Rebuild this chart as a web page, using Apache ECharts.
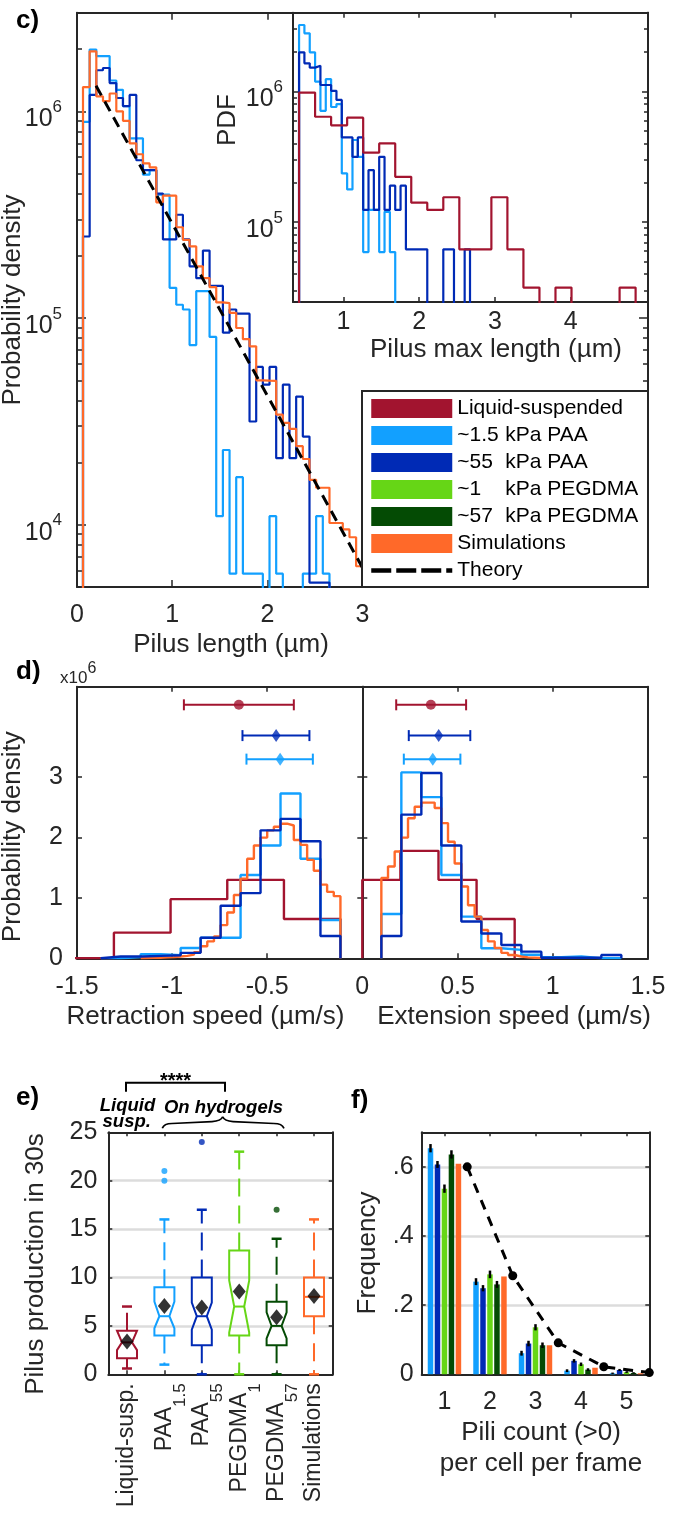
<!DOCTYPE html>
<html>
<head>
<meta charset="utf-8">
<script src="https://cdn.jsdelivr.net/npm/echarts@6.0.0/dist/echarts.min.js"></script>
<style>
html,body{margin:0;padding:0;background:#ffffff;}
#chart{width:680px;height:1513px;}
</style>
</head>
<body>
<div id="chart"></div>
<script>
// ===================== DATA =====================
// c) main panel: pilus length PDFs (first bin edge, bin width, densities per bin)
const cBinStart = 0.063;
const cBinWidth = 0.07;
const cPAA15 = [8.9e5, 1.99e6, 1.85e6, 1.85e6, 1.41e6, 1.27e6, 1.06e6, 7.4e5, 7.4e5, 4.94e5, 5.2e5, 3.95e5, 3.95e5, 1.4e5, 1.16e5, 1.1e5, 7.4e4, 1.35e5, 1.35e5, 8.1e4, 1.1e4, 2.3e4, 5.8e3, 1.7e4, 5.8e3, 5.8e3, 5.8e3, 0, 1.1e4, 5.8e3, 0, 0, 0, 5.8e3, 5.8e3, 1.1e4, 5.8e3];
const cPAA55 = [2.48e5, 1.2e6, 1.58e6, 1.62e6, 1.37e6, 1.16e6, 1.06e6, 1.2e6, 5.8e5, 5.2e5, 5.2e5, 4.0e5, 2.4e5, 2.4e5, 3.16e5, 2.4e5, 1.78e5, 1.56e5, 2.12e5, 1.43e5, 1.43e5, 8.5e4, 1.1e5, 1.05e5, 1.05e5, 3.16e4, 5.8e4, 4.76e4, 5.8e4, 2.1e4, 4.76e4, 2.1e4, 4.17e4, 2.67e4, 5.25e3, 5.25e3, 5.25e3];
const cSim = [1.31e6, 1.95e6, 1.18e6, 1.12e6, 1.22e6, 1.0e6, 9.0e5, 7.0e5, 6.2e5, 5.6e5, 5.36e5, 3.63e5, 3.91e5, 3.91e5, 2.75e5, 2.39e5, 2.22e5, 1.78e5, 1.56e5, 1.41e5, 1.19e5, 1.18e5, 1.06e5, 8.95e4, 7.9e4, 7.3e4, 5.0e4, 4.98e4, 4.97e4, 3.41e4, 3.11e4, 2.91e4, 2.4e4, 2.08e4, 1.65e4, 1.51e4, 1.51e4, 1.02e4, 1.02e4, 9.5e3, 8.7e3, 6.3e3];
const cTheory = [[0.2, 1.33e6], [3.0, 6.2e3]];
const cXLabels = [0, 1, 2, 3];
const cYLabels = [1e4, 1e5, 1e6];

// c) inset: pilus max length PDFs
const insLiquidStart = 0.415, insLiquidWidth = 0.2115;
const insLiquid = [9.8e5, 6.4e5, 5.5e5, 6.3e5, 3.4e5, 4.0e5, 2.22e5, 1.41e5, 1.24e5, 1.55e5, 6.2e4, 6.2e4, 1.55e5, 6.2e4, 3.16e4, 0, 3.16e4, 0, 0, 0, 3.16e4];
const insPAAStart = 0.415, insPAAWidth = 0.0705;
const insPAA15 = [3.22e6, 2.78e6, 1.99e6, 1.19e6, 7.1e5, 1.24e6, 7.6e5, 8.0e5, 2.36e5, 1.78e5, 4.25e5, 3.16e5, 5.9e4, 1.24e5, 1.24e5, 5.9e4, 1.2e5, 5.9e4];
const insPAA55 = [1.99e6, 1.64e6, 1.52e6, 1.57e6, 1.12e6, 1.12e6, 1.01e6, 8.6e5, 4.45e5, 4.45e5, 3.16e5, 4.45e5, 1.24e5, 2.5e5, 1.24e5, 3.16e5, 1.24e5, 1.9e5, 1.24e5, 1.9e5, 6.2e4, 6.2e4, 6.2e4, 6.2e4, 0, 0, 0, 6.2e4, 6.2e4, 0, 0, 6.2e4];
const insXLabels = [1, 2, 3, 4];
const insYLabels = [1e5, 1e6];

// d) retraction / extension speed PDFs (x10^6)
const dRetLiquidStart = -1.604, dRetLiquidWidth = 0.298;
const dRetLiquid = [0, 0.425, 0.98, 1.30, 0.65];
const dRetPAAStart = -1.375, dRetPAAWidth = 0.105;
const dRetPAA15 = [0, 0.02, 0.07, 0.05, 0.17, 0.34, 0.34, 1.38, 1.87, 2.73, 1.65, 0.635];
const dRetPAA55 = [0.03, 0.03, 0.04, 0.05, 0.09, 0.34, 0.87, 1.08, 2.12, 2.31, 1.94, 0.37];
const dRetSimStart = -1.165, dRetSimWidth = 0.035;
const dRetSim = [0.005, 0.01, 0.01, 0.015, 0.02, 0.03, 0.04, 0.06, 0.1, 0.2, 0.28, 0.36, 0.55, 0.76, 1.05, 1.32, 1.65, 1.87, 2.0, 2.12, 2.18, 2.23, 2.2, 1.96, 1.88, 1.63, 1.45, 1.22, 1.1, 1.03];
const dExtLiquidStart = 0, dExtLiquidWidth = 0.2;
const dExtLiquid = [1.30, 1.78, 1.30, 0.65];
const dExtPAAStart = 0.1, dExtPAAWidth = 0.105;
const dExtPAA15 = [0.735, 3.08, 2.67, 1.38, 0.69, 0.166, 0.14, 0.06, 0.02, 0.03, 0, 0];
const dExtPAA55 = [0.37, 2.38, 3.07, 1.87, 0.61, 0.41, 0.22, 0.11, 0.01, 0.01, 0.01, 0.055];
const dExtSimStart = 0.1, dExtSimWidth = 0.035;
const dExtSim = [1.33, 1.52, 1.77, 2.0, 2.32, 2.51, 2.58, 2.58, 2.49, 2.24, 1.93, 1.57, 1.19, 0.88, 0.69, 0.47, 0.28, 0.17, 0.09, 0.055, 0.03, 0.015, 0.01, 0.005];
// mean +/- sd markers: [level, low, mean, high]
const dRetErr = {liq: [4.2, -0.938, -0.649, -0.36], p55: [3.69, -0.63, -0.453, -0.278], p15: [3.30, -0.609, -0.432, -0.26]};
const dExtErr = {liq: [4.2, 0.178, 0.36, 0.545], p55: [3.69, 0.244, 0.401, 0.567], p15: [3.30, 0.218, 0.37, 0.515]};
const dYLabels = [0, 1, 2, 3];

// e) pilus production in 30 s: [whiskerLow, Q1, notchLow, median, notchHigh, Q3, whiskerHigh]
const eCategories = [['Liquid-susp.', ''], ['PAA', '1.5'], ['PAA', '55'], ['PEGDMA', '1'], ['PEGDMA', '57'], ['Simulations', '']];
const eStats = [
  [0.6, 1.65, 2.5, 3.3, 4.5, 4.5, 7],
  [1, 4, 4.75, 6, 7.5, 9, 16],
  [0, 3, 4.6, 6, 7.4, 10, 17],
  [0, 4, 4.3, 7, 9.7, 12.8, 23],
  [0, 3, 3.7, 5, 6.4, 7.5, 14],
  [0, 6, 8, 8, 8, 10, 16]
];
const eMeans = [3.38, 7.06, 6.9, 8.55, 5.9, 8.1];
const eOutliers = [[1, 21], [1, 20], [2, 24], [4, 17]];
const eYLabels = [0, 5, 10, 15, 20, 25];

// f) pili count per cell per frame
const fCategories = ['1', '2', '3', '4', '5'];
const fPAA15 = [0.654, 0.268, 0.061, 0.0105, 0.003];
const fPAA55 = [0.607, 0.249, 0.089, 0.039, 0.0125];
const fPEG1 = [0.537, 0.289, 0.136, 0.029, 0.006];
const fPEG57 = [0.636, 0.26, 0.084, 0.0135, 0.004];
const fSim = [0.609, 0.283, 0.084, 0.019, 0.003];
const fErr15 = [0.012, 0.01, 0.007, 0.004, 0.002];
const fErr55 = [0.01, 0.009, 0.008, 0.005, 0.003];
const fErrPEG1 = [0.012, 0.011, 0.009, 0.005, 0.002];
const fErrPEG57 = [0.012, 0.01, 0.008, 0.004, 0.002];
const fTheoryX = [1.5, 2.5, 3.5, 4.5, 5.5];
const fTheory = [0.6, 0.285, 0.091, 0.022, 0.005];
const fYLabels = [0, 0.2, 0.4, 0.6];

// legend entries
const legendNames = ['Liquid-suspended', 'PAA1.5', 'PAA55', 'PEGDMA1', 'PEGDMA57', 'Simulations', 'Theory'];
const legendTexts = {'Liquid-suspended': ['Liquid-suspended'], 'PAA1.5': ['~1.5', 'kPa PAA'], 'PAA55': ['~55', 'kPa PAA'], 'PEGDMA1': ['~1', 'kPa PEGDMA'], 'PEGDMA57': ['~57', 'kPa PEGDMA'], 'Simulations': ['Simulations'], 'Theory': ['Theory']};

// ===================== STYLE / HELPERS =====================
const FONT = "'Liberation Sans', Arial, Helvetica, sans-serif";
const AX = '#262626';
const COL = {liq: '#a2142f', p15: '#12a0ff', p55: '#002ab5', g1: '#66d616', g57: '#044b04', sim: '#ff6929'};
const eColors = [COL.liq, COL.p15, COL.p55, COL.g1, COL.g57, COL.sim];
const TICK = 25;

function steps(x0, w, vals, floor) {
  const pts = [[x0, floor]];
  for (let i = 0; i < vals.length; i++) pts.push([x0 + i * w, vals[i] > 0 ? vals[i] : floor]);
  pts.push([x0 + vals.length * w, floor]);
  return pts;
}
function minorLog(lo, hi) {
  const out = [];
  for (let e = -2; e < 9; e++) for (let m = 2; m <= 9; m++) {
    const v = m * Math.pow(10, e);
    if (v > lo * 1.0001 && v < hi * 0.9999) out.push(v);
  }
  return out;
}
const pow10 = v => '{b|10}{s|' + Math.round(Math.log10(v)) + '}';
const powRich = {
  b: {fontSize: TICK, fontFamily: FONT, color: AX, lineHeight: 25, verticalAlign: 'top', padding: [8, 0, 0, 0]},
  s: {fontSize: 17, fontFamily: FONT, color: AX, lineHeight: 17, verticalAlign: 'top'}
};

function ax(o) {
  const a = {
    type: o.log ? 'log' : (o.cat ? 'category' : 'value'),
    gridIndex: o.grid, position: o.pos, z: o.z || 0,
    axisLine: {show: o.line !== false, onZero: false, lineStyle: {color: AX, width: 2}},
    axisTick: {show: o.noTicks ? false : true, inside: true, length: o.tickLen || 5, lineStyle: {color: AX, width: 1.5}},
    axisLabel: {show: !!o.labels, color: AX, fontSize: TICK, fontFamily: FONT, margin: o.margin || 8},
    splitLine: {show: false},
    minorTick: {show: false},
    axisPointer: {show: false}
  };
  if (o.log) a.logBase = 10;
  if (o.min !== undefined) a.min = o.min;
  if (o.max !== undefined) a.max = o.max;
  if (o.interval) a.interval = o.interval;
  if (o.ticks) a.axisTick.customValues = o.ticks;
  if (o.labels && o.labels !== true) a.axisLabel.customValues = o.labels;
  if (o.fmt) a.axisLabel.formatter = o.fmt;
  if (o.rich) a.axisLabel.rich = o.rich;
  if (o.rotate) a.axisLabel.rotate = o.rotate;
  if (o.cat) { a.data = o.cat; a.axisTick.alignWithLabel = true; a.axisTick.interval = 0; a.axisLabel.interval = 0; a.axisLabel.hideOverlap = false; a.boundaryGap = true; }
  if (o.split) a.splitLine = {show: true, lineStyle: {color: '#dcdcdc', width: 2.5}};
  if (o.hidden) a.show = false;
  return a;
}
function stepSeries(name, color, data, xi, yi, z, width) {
  return {name, type: 'line', step: 'end', data, xAxisIndex: xi, yAxisIndex: yi, z: z,
    symbol: 'none', showSymbol: false, clip: true, silent: true, color: color,
    itemStyle: {color: color}, lineStyle: {color: color, width: width || 2.2}};
}
function txt(x, y, text, o) {
  o = o || {};
  return {type: 'text', x: x, y: y, rotation: o.rot || 0, z: 20, silent: true,
    style: {text: text, fill: o.color || AX, fontSize: o.size || 26, fontFamily: FONT,
      fontWeight: o.weight || 'normal', fontStyle: o.fstyle || 'normal',
      align: o.align || 'center', textAlign: o.align || 'center',
      verticalAlign: o.va || 'middle', textVerticalAlign: o.va || 'middle', rich: o.rich}};
}
function seg(x1, y1, x2, y2, w) {
  return {type: 'line', z: 20, silent: true, shape: {x1, y1, x2, y2}, style: {stroke: '#000', lineWidth: w || 1.7}};
}
function qcurve(x1, y1, cx, cy, x2, y2) {
  return {type: 'bezierCurve', z: 20, silent: true, shape: {x1, y1, x2, y2, cpx1: cx, cpy1: cy}, style: {stroke: '#000', lineWidth: 1.7, fill: 'none'}};
}

// ---------- panel d error bars ----------
function renderHErr(params, api) {
  const yv = api.value(0), lo = api.value(1), hi = api.value(3);
  const p1 = api.coord([lo, yv]), p2 = api.coord([hi, yv]);
  const color = api.visual('color');
  const st = {stroke: color, lineWidth: 2};
  return {type: 'group', children: [
    {type: 'line', shape: {x1: p1[0], y1: p1[1], x2: p2[0], y2: p2[1]}, style: st},
    {type: 'line', shape: {x1: p1[0], y1: p1[1] - 5.5, x2: p1[0], y2: p1[1] + 5.5}, style: st},
    {type: 'line', shape: {x1: p2[0], y1: p2[1] - 5.5, x2: p2[0], y2: p2[1] + 5.5}, style: st}
  ]};
}
function errData(obj) {
  return [['liq', COL.liq], ['p55', COL.p55], ['p15', COL.p15]].map(([k, c]) => ({value: obj[k], itemStyle: {color: c}}));
}
function markerData(obj) {
  return [['liq', COL.liq, 'circle', 10], ['p55', COL.p55, 'diamond', [9, 13]], ['p15', COL.p15, 'diamond', [9, 13]]]
    .map(([k, c, s, sz]) => ({value: [obj[k][2], obj[k][0]], symbol: s, symbolSize: sz, itemStyle: {color: c}}));
}

// ---------- panel e boxes ----------
function renderBox(params, api) {
  const i = api.value(0);
  const wLo = api.value(1), q1 = api.value(2), nLo = api.value(3), med = api.value(4), nHi = api.value(5), q3 = api.value(6), wHi = api.value(7);
  const cx = api.coord([i, med])[0];
  const Y = v => api.coord([i, v])[1];
  const hw = 10, ind = nHi > nLo ? 5 : 0, cap = 5;
  const color = eColors[i];
  const pts = [[cx - hw, Y(q3)], [cx + hw, Y(q3)], [cx + hw, Y(nHi)], [cx + hw - ind, Y(med)], [cx + hw, Y(nLo)], [cx + hw, Y(q1)],
    [cx - hw, Y(q1)], [cx - hw, Y(nLo)], [cx - hw + ind, Y(med)], [cx - hw, Y(nHi)]];
  return {type: 'group', children: [
    {type: 'line', shape: {x1: cx, y1: Y(q3), x2: cx, y2: Y(wHi)}, style: {stroke: color, lineWidth: 2, lineDash: [18, 9]}},
    {type: 'line', shape: {x1: cx, y1: Y(q1), x2: cx, y2: Y(wLo)}, style: {stroke: color, lineWidth: 2, lineDash: [18, 9]}},
    {type: 'line', shape: {x1: cx - cap, y1: Y(wHi), x2: cx + cap, y2: Y(wHi)}, style: {stroke: color, lineWidth: 2.5}},
    {type: 'line', shape: {x1: cx - cap, y1: Y(wLo), x2: cx + cap, y2: Y(wLo)}, style: {stroke: color, lineWidth: 2.5}},
    {type: 'polygon', shape: {points: pts}, style: {stroke: color, lineWidth: 2, fill: 'none'}},
    {type: 'line', shape: {x1: cx - hw + ind, y1: Y(med), x2: cx + hw - ind, y2: Y(med)}, style: {stroke: color, lineWidth: 2}}
  ]};
}

// ---------- panel f bars ----------
const BAR_W = 5.5, BAR_GAP = 0.27, BAR_STEP = BAR_W * (1 + BAR_GAP);
function makeBarErr(k) {
  return function (params, api) {
    const c = api.value(0), v = api.value(1), e = api.value(2);
    const top = api.coord([c, v + e]), bot = api.coord([c, v - e]);
    const x = top[0] + (k - 2) * BAR_STEP;
    return {type: 'line', shape: {x1: x, y1: top[1], x2: x, y2: bot[1]}, style: {stroke: '#000', lineWidth: 2.5}};
  };
}
function barSeries(name, color, vals) {
  return {name, type: 'bar', xAxisIndex: 10, yAxisIndex: 14, data: vals, barWidth: BAR_W, barGap: (BAR_GAP * 100) + '%',
    color: color, itemStyle: {color: color}, z: 2, silent: true};
}
function errSeries(k, vals, errs) {
  return {type: 'custom', xAxisIndex: 10, yAxisIndex: 14, z: 4, silent: true, renderItem: makeBarErr(k),
    encode: {x: 0, y: 1}, data: vals.map((v, i) => [i, v, errs[i]])};
}

// ===================== OPTION =====================
const cMinor = minorLog(5e3, 3e6);
const insMinor = minorLog(2.45e4, 4e6);

const option = {
  animation: false,
  backgroundColor: '#ffffff',
  textStyle: {fontFamily: FONT},
  grid: [
    {left: 77, top: 12.7, width: 571, height: 574.3, outerBoundsMode: 'none', containLabel: false},
    {left: 293, top: 12.7, width: 355, height: 289.3, outerBoundsMode: 'none', containLabel: false},
    {left: 77, top: 686.7, width: 285.3, height: 271.6, outerBoundsMode: 'none', containLabel: false},
    {left: 362.3, top: 686.7, width: 285.7, height: 271.6, outerBoundsMode: 'none', containLabel: false},
    {left: 108.3, top: 1132.3, width: 224.4, height: 242, outerBoundsMode: 'none', containLabel: false},
    {left: 421.7, top: 1132.3, width: 227.6, height: 242, outerBoundsMode: 'none', containLabel: false}
  ],
  xAxis: [
    ax({grid: 0, pos: 'bottom', min: 0, max: 6, ticks: [1, 2, 3, 4, 5], tickLen: 7, labels: cXLabels, margin: 16}),
    ax({grid: 0, pos: 'top', min: 0, max: 6, ticks: [1, 2, 3, 4, 5], tickLen: 7}),
    ax({grid: 1, pos: 'bottom', min: 0.335, max: 5.02, ticks: insXLabels, tickLen: 5, labels: insXLabels, margin: 8, z: 6}),
    ax({grid: 1, pos: 'top', min: 0.335, max: 5.02, ticks: insXLabels, tickLen: 5, z: 6}),
    ax({grid: 2, pos: 'bottom', min: -1.5, max: 0, ticks: [-1, -0.5], labels: [-1.5, -1, -0.5], margin: 16}),
    ax({grid: 2, pos: 'top', min: -1.5, max: 0, ticks: [-1, -0.5]}),
    ax({grid: 3, pos: 'bottom', min: 0, max: 1.5, ticks: [0.5, 1], labels: [0, 0.5, 1, 1.5], margin: 16}),
    ax({grid: 3, pos: 'top', min: 0, max: 1.5, ticks: [0.5, 1]}),
    ax({grid: 4, pos: 'bottom', cat: eCategories.map(c => c[0] + c[1]), tickLen: 4, labels: true, margin: 9, rotate: 90, z: 1,
      fmt: (v, i) => eCategories[i][1] ? '{b|' + eCategories[i][0] + '}{s|' + eCategories[i][1] + '}' : '{b|' + eCategories[i][0] + '}',
      rich: {
        b: {fontSize: 23, fontFamily: FONT, color: AX, lineHeight: 23, verticalAlign: 'top'},
        s: {fontSize: 17, fontFamily: FONT, color: AX, lineHeight: 17, verticalAlign: 'top', padding: [19, 0, 0, 0]}
      }}),
    ax({grid: 4, pos: 'top', cat: eCategories.map(c => c[0] + c[1]), tickLen: 4, z: 1}),
    ax({grid: 5, pos: 'bottom', cat: fCategories, tickLen: 4, labels: true, margin: 15, z: 1}),
    ax({grid: 5, pos: 'top', cat: fCategories, tickLen: 4, z: 1}),
    ax({grid: 5, pos: 'bottom', min: 0.5, max: 5.5, hidden: true})
  ],
  yAxis: [
    ax({grid: 0, pos: 'left', log: true, min: 5e3, max: 3e6, ticks: cYLabels, tickLen: 9, labels: cYLabels, fmt: pow10, rich: powRich, margin: 15}),
    ax({grid: 0, pos: 'left', log: true, min: 5e3, max: 3e6, ticks: cMinor, tickLen: 5, line: false}),
    ax({grid: 0, pos: 'right', log: true, min: 5e3, max: 3e6, ticks: cYLabels, tickLen: 9}),
    ax({grid: 0, pos: 'right', log: true, min: 5e3, max: 3e6, ticks: cMinor, tickLen: 5, line: false}),
    ax({grid: 1, pos: 'left', log: true, min: 2.45e4, max: 4e6, ticks: insYLabels, tickLen: 6, labels: insYLabels, fmt: pow10, rich: powRich, margin: 10, z: 6}),
    ax({grid: 1, pos: 'left', log: true, min: 2.45e4, max: 4e6, ticks: insMinor, tickLen: 4, line: false, z: 6}),
    ax({grid: 1, pos: 'right', log: true, min: 2.45e4, max: 4e6, ticks: insYLabels, tickLen: 6, z: 6}),
    ax({grid: 1, pos: 'right', log: true, min: 2.45e4, max: 4e6, ticks: insMinor, tickLen: 4, line: false, z: 6}),
    ax({grid: 2, pos: 'left', min: 0, max: 4.5, interval: 1, ticks: [1, 2, 3], labels: dYLabels, margin: 14}),
    ax({grid: 2, pos: 'right', min: 0, max: 4.5, interval: 1, ticks: [1, 2, 3]}),
    ax({grid: 3, pos: 'left', min: 0, max: 4.5, interval: 1, ticks: [1, 2, 3]}),
    ax({grid: 3, pos: 'right', min: 0, max: 4.5, interval: 1, ticks: [1, 2, 3]}),
    ax({grid: 4, pos: 'left', min: 0, max: 25, interval: 5, ticks: [5, 10, 15, 20], tickLen: 4, labels: eYLabels, margin: 11, split: true}),
    ax({grid: 4, pos: 'right', min: 0, max: 25, interval: 5, ticks: [5, 10, 15, 20], tickLen: 4, z: 1}),
    ax({grid: 5, pos: 'left', min: 0, max: 0.7, interval: 0.2, ticks: [0.2, 0.4, 0.6], tickLen: 4, labels: fYLabels, margin: 8, split: true,
      fmt: v => (v === 0 ? '0' : String(v).replace(/^0/, ''))}),
    ax({grid: 5, pos: 'right', min: 0, max: 0.7, interval: 0.2, ticks: [0.2, 0.4, 0.6], tickLen: 4, z: 1})
  ],
  legend: {
    orient: 'vertical', left: 369, top: 398, padding: 0, itemWidth: 81, itemHeight: 19, itemGap: 6, z: 8,
    selectedMode: false,
    itemStyle: {borderWidth: 0},
    textStyle: {fontSize: 21, color: '#000', fontFamily: FONT, lineHeight: 21,
      rich: {n: {width: 48, fontSize: 21, color: '#000', fontFamily: FONT, lineHeight: 21}, k: {fontSize: 21, color: '#000', fontFamily: FONT, lineHeight: 21}}},
    formatter: name => {
      const t = legendTexts[name];
      return t.length > 1 ? '{n|' + t[0] + '}{k|' + t[1] + '}' : t[0];
    },
    data: legendNames.map(n => n === 'Theory'
      ? {name: n, itemStyle: {opacity: 0}, lineStyle: {type: [20, 5], width: 4.5, color: '#000'}}
      : {name: n, icon: 'rect'})
  },
  series: [
    // ---- c main ----
    stepSeries('PAA1.5', COL.p15, steps(cBinStart, cBinWidth, cPAA15, 1), 0, 0, 2),
    stepSeries('PAA55', COL.p55, steps(cBinStart, cBinWidth, cPAA55, 1), 0, 0, 2),
    stepSeries('Simulations', COL.sim, steps(cBinStart, cBinWidth, cSim, 1), 0, 0, 2),
    {name: 'Theory', type: 'line', data: cTheory, xAxisIndex: 0, yAxisIndex: 0, z: 3, symbol: 'none', silent: true,
      color: '#000', itemStyle: {color: '#000'}, lineStyle: {color: '#000', width: 3, type: [11, 7]}},
    // ---- c inset ----
    stepSeries('ins-PAA1.5', COL.p15, steps(insPAAStart, insPAAWidth, insPAA15, 1), 2, 4, 7),
    stepSeries('ins-PAA55', COL.p55, steps(insPAAStart, insPAAWidth, insPAA55, 1), 2, 4, 7),
    stepSeries('Liquid-suspended', COL.liq, steps(insLiquidStart, insLiquidWidth, insLiquid, 1), 2, 4, 7),
    // ---- d retraction ----
    stepSeries('d-ret-liq', COL.liq, steps(dRetLiquidStart, dRetLiquidWidth, dRetLiquid, 0), 4, 8, 2, 2.4),
    stepSeries('d-ret-p15', COL.p15, steps(dRetPAAStart, dRetPAAWidth, dRetPAA15, 0), 4, 8, 2, 2.4),
    stepSeries('d-ret-sim', COL.sim, steps(dRetSimStart, dRetSimWidth, dRetSim, 0), 4, 8, 2, 2.4),
    stepSeries('d-ret-p55', COL.p55, steps(dRetPAAStart, dRetPAAWidth, dRetPAA55, 0), 4, 8, 2, 2.4),
    {type: 'custom', xAxisIndex: 4, yAxisIndex: 8, z: 4, silent: true, renderItem: renderHErr, encode: {x: [1, 2, 3], y: 0}, data: errData(dRetErr)},
    {type: 'scatter', xAxisIndex: 4, yAxisIndex: 8, z: 5, silent: true, data: markerData(dRetErr)},
    // ---- d extension ----
    stepSeries('d-ext-liq', COL.liq, steps(dExtLiquidStart, dExtLiquidWidth, dExtLiquid, 0), 6, 10, 2, 2.4),
    stepSeries('d-ext-p15', COL.p15, steps(dExtPAAStart, dExtPAAWidth, dExtPAA15, 0), 6, 10, 2, 2.4),
    stepSeries('d-ext-sim', COL.sim, steps(dExtSimStart, dExtSimWidth, dExtSim, 0), 6, 10, 2, 2.4),
    stepSeries('d-ext-p55', COL.p55, steps(dExtPAAStart, dExtPAAWidth, dExtPAA55, 0), 6, 10, 2, 2.4),
    {type: 'custom', xAxisIndex: 6, yAxisIndex: 10, z: 4, silent: true, renderItem: renderHErr, encode: {x: [1, 2, 3], y: 0}, data: errData(dExtErr)},
    {type: 'scatter', xAxisIndex: 6, yAxisIndex: 10, z: 5, silent: true, data: markerData(dExtErr)},
    // ---- e ----
    {type: 'custom', xAxisIndex: 8, yAxisIndex: 12, z: 3, silent: true, renderItem: renderBox,
      encode: {x: 0, y: [1, 2, 3, 4, 5, 6, 7]}, data: eStats.map((s, i) => [i].concat(s))},
    {type: 'scatter', xAxisIndex: 8, yAxisIndex: 12, z: 4, silent: true, symbol: 'circle', symbolSize: 6,
      data: eOutliers.map(p => ({value: p, itemStyle: {color: eColors[p[0]]}}))},
    {type: 'scatter', xAxisIndex: 8, yAxisIndex: 12, z: 5, silent: true, symbol: 'diamond', symbolSize: [13, 16],
      itemStyle: {color: '#000'}, data: eMeans.map((m, i) => [i, m])},
    // ---- f ----
    barSeries('f-PAA1.5', COL.p15, fPAA15),
    barSeries('f-PAA55', COL.p55, fPAA55),
    barSeries('PEGDMA1', COL.g1, fPEG1),
    barSeries('PEGDMA57', COL.g57, fPEG57),
    barSeries('f-Sim', COL.sim, fSim),
    errSeries(0, fPAA15, fErr15),
    errSeries(1, fPAA55, fErr55),
    errSeries(2, fPEG1, fErrPEG1),
    errSeries(3, fPEG57, fErrPEG57),
    {name: 'f-Theory', type: 'line', xAxisIndex: 12, yAxisIndex: 14, z: 5, silent: true, clip: false,
      data: fTheoryX.map((x, i) => [x, fTheory[i]]), symbol: 'circle', symbolSize: 9, showSymbol: true,
      color: '#000', itemStyle: {color: '#000'}, lineStyle: {color: '#000', width: 3, type: [10, 8]}}
  ],
  graphic: [
    {type: 'rect', z: 5, silent: true, shape: {x: 293, y: 12.7, width: 355, height: 289.3}, style: {fill: '#ffffff'}},
    {type: 'rect', z: 5, silent: true, shape: {x: 362, y: 391, width: 286, height: 196}, style: {fill: '#ffffff', stroke: AX, lineWidth: 2}},
    // panel letters
    txt(16, 20.5, 'c)', {weight: 'bold', align: 'left', color: '#000'}),
    txt(16, 671.7, 'd)', {weight: 'bold', align: 'left', color: '#000'}),
    txt(16, 1098, 'e)', {weight: 'bold', align: 'left', color: '#000'}),
    txt(351, 1101, 'f)', {weight: 'bold', align: 'left', color: '#000'}),
    // c titles
    txt(13, 300, 'Probability density', {rot: Math.PI / 2}),
    txt(231, 645, 'Pilus length (µm)'),
    txt(228, 120, 'PDF', {rot: Math.PI / 2}),
    txt(496, 350, 'Pilus max length (µm)'),
    // d titles
    txt(13, 836.7, 'Probability density', {rot: Math.PI / 2}),
    txt(205.5, 1017, 'Retraction speed (µm/s)'),
    txt(514, 1017, 'Extension speed (µm/s)'),
    {type: 'text', x: 60, y: 661, z: 20, silent: true, style: {text: '{a|x10}{b|6}', align: 'left', textAlign: 'left', verticalAlign: 'top', textVerticalAlign: 'top',
      rich: {a: {fontSize: 17, fontFamily: FONT, fill: AX, color: AX, lineHeight: 17, verticalAlign: 'top', padding: [9, 0, 0, 0]},
        b: {fontSize: 16, fontFamily: FONT, fill: AX, color: AX, lineHeight: 16, verticalAlign: 'top'}}}},
    // e titles & annotations
    txt(36, 1264, 'Pilus production in 30s', {rot: Math.PI / 2}),
    {type: 'polyline', z: 20, silent: true, shape: {points: [[126, 1091.7], [126, 1082.7], [225, 1082.7], [225, 1091.7]]}, style: {stroke: '#000', lineWidth: 2, fill: 'none'}},
    txt(175.5, 1081, '****', {weight: 'bold', size: 20, color: '#000'}),
    txt(127.5, 1106, 'Liquid', {weight: 'bold', fstyle: 'italic', size: 18.5, color: '#000'}),
    txt(126.7, 1121.5, 'susp.', {weight: 'bold', fstyle: 'italic', size: 18.5, color: '#000'}),
    txt(223.5, 1108.3, 'On hydrogels', {weight: 'bold', fstyle: 'italic', size: 18.5, color: '#000'}),
    qcurve(162.3, 1128.3, 164, 1123.5, 172, 1123.5),
    seg(172, 1123.5, 212, 1121.6),
    qcurve(212, 1121.6, 221, 1121.2, 222.7, 1116.8),
    qcurve(222.7, 1116.8, 224.5, 1121.2, 233, 1121.6),
    seg(233, 1121.6, 274, 1123.5),
    qcurve(274, 1123.5, 282, 1123.5, 284, 1128.3),
    // f titles
    txt(368, 1253, 'Frequency', {rot: Math.PI / 2}),
    txt(541, 1433, 'Pili count (>0)'),
    txt(541, 1464, 'per cell per frame')
  ]
};

const chart = echarts.init(document.getElementById('chart'), null, {renderer: 'canvas', width: 680, height: 1513});
chart.setOption(option);
</script>
</body>
</html>
